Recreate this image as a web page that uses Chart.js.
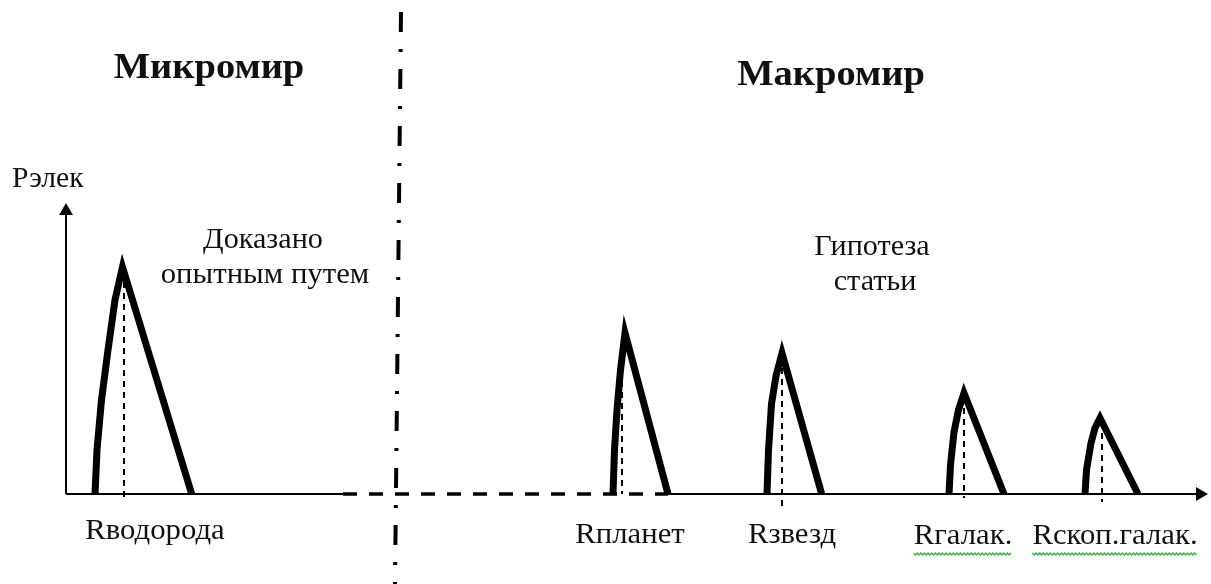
<!DOCTYPE html>
<html>
<head>
<meta charset="utf-8">
<script src="https://cdn.jsdelivr.net/npm/chart.js@4.4.1/dist/chart.umd.min.js"></script>
<style>
  html, body { margin: 0; padding: 0; background: #ffffff; }
  #wrap { width: 1211px; height: 584px; position: relative; }
</style>
</head>
<body>
<div id="wrap"><canvas id="c" width="1211" height="584"></canvas></div>
<script>
// ---------- DATA (diagram units: x along R axis from origin, y = Рэлек above axis) ----------
const peakNames   = ['Rводорода', 'Rпланет', 'Rзвезд', 'Rгалак.', 'Rскоп.галак.'];
const peakCenterX = [58, 556, 716, 898, 1036];        // dashed drop line position
const peakApexX   = [56.5, 559, 716, 898, 1034];
const peakHeight  = [227, 161, 141, 101, 76];
const peakLeftX   = [29, 547, 701, 883, 1019];         // left foot
const peakRightX  = [125.7, 602, 755.7, 938, 1072];    // right foot
// read-off points of the curved left flank (between foot and apex)
const flankX = [[31, 35.5, 42, 49], [548.5, 551, 554.5], [702.5, 705.5, 710], [884.5, 888, 892.5], [1020.5, 1025, 1029]];
const flankY = [[44, 94, 144, 194], [44, 84, 124], [44, 90, 118], [29, 62, 84], [24, 51, 66]];
const dropBottom = [-4, 0, -12, -4, -8];

const yAxisTop   = 291;
const xAxisEnd   = 1142;
const xSolidEnd1 = 277;   // solid part (micro world)
const xDashEnd   = 602;   // dashed part crossing the border
const borderTop  = [335, 482];
const borderBot  = [329, -90];

const headings    = ['Микромир', 'Макромир'];
const yAxisTitle  = 'Рэлек';
const noteMicro   = ['Доказано', 'опытным путем'];
const noteMacro   = ['Гипотеза', 'статьи'];

// ---------- LAYOUT (text placement) ----------
const FONT = '"Liberation Serif", "Times New Roman", serif';
const textLayout = [
  { t: headings[0], x: 143, y: 416, size: 36, bold: true, align: 'center', sx: 1.07 },
  { t: headings[1], x: 765, y: 409, size: 36, bold: true, align: 'center', sx: 1.07 },
  { t: yAxisTitle,  x: -54, y: 307, size: 29, align: 'left', sx: 1.02 },
  { t: noteMicro[0], x: 197, y: 246, size: 29, align: 'center', sx: 1.04 },
  { t: noteMicro[1], x: 199, y: 211, size: 29, align: 'center', sx: 1.06 },
  { t: noteMacro[0], x: 806, y: 239, size: 29, align: 'center', sx: 1.04 },
  { t: noteMacro[1], x: 809, y: 204, size: 29, align: 'center', sx: 1.04 },
];
const peakLabelX = [89, 564, 726, 897, 1049];
const peakLabelY = [-45, -49, -49, -50, -50];
const squiggle   = [false, false, false, true, true];

// ---------- DATASETS ----------
const datasets = [];
const black = '#000000';

for (let i = 0; i < peakNames.length; i++) {
  const pts = [{ x: peakLeftX[i], y: 0 }];
  for (let k = 0; k < flankX[i].length; k++) pts.push({ x: flankX[i][k], y: flankY[i][k] });
  pts.push({ x: peakApexX[i], y: peakHeight[i] });
  pts.push({ x: peakRightX[i], y: 0 });
  datasets.push({
    label: peakNames[i] + ' drop', data: [{ x: peakCenterX[i], y: peakHeight[i] - 4 }, { x: peakCenterX[i], y: dropBottom[i] }],
    showLine: true, borderColor: black, borderWidth: 2, borderDash: [6, 5], pointRadius: 0, order: 3
  });
  datasets.push({
    label: peakNames[i], data: pts, showLine: true, borderColor: black, borderWidth: 7,
    borderJoinStyle: 'miter', borderCapStyle: 'butt', pointRadius: 0, tension: 0, order: 1
  });
}
datasets.push({ label: 'y axis', data: [{ x: 0, y: 0 }, { x: 0, y: yAxisTop - 10 }], showLine: true, borderColor: black, borderWidth: 2, pointRadius: 0, order: 2 });
datasets.push({ label: 'y arrow', data: [{ x: 0, y: yAxisTop - 8 }], pointStyle: 'triangle', pointRadius: 8, pointBackgroundColor: black, pointBorderColor: black, borderWidth: 0, rotation: 0, order: 2 });
datasets.push({ label: 'x axis 1', data: [{ x: 0, y: 0 }, { x: xSolidEnd1, y: 0 }], showLine: true, borderColor: black, borderWidth: 2, pointRadius: 0, order: 2 });
datasets.push({ label: 'x axis dashed', data: [{ x: xSolidEnd1, y: 0 }, { x: xDashEnd, y: 0 }], showLine: true, borderColor: black, borderWidth: 3.5, borderDash: [14, 12], pointRadius: 0, order: 2 });
datasets.push({ label: 'x axis 2', data: [{ x: xDashEnd, y: 0 }, { x: xAxisEnd - 10, y: 0 }], showLine: true, borderColor: black, borderWidth: 2, pointRadius: 0, order: 2 });
datasets.push({ label: 'x arrow', data: [{ x: xAxisEnd - 8, y: 0 }], pointStyle: 'triangle', pointRadius: 8, pointBackgroundColor: black, pointBorderColor: black, borderWidth: 0, rotation: 90, order: 2 });
datasets.push({ label: 'border', data: [{ x: borderTop[0], y: borderTop[1] }, { x: borderBot[0], y: borderBot[1] }], showLine: true, borderColor: black, borderWidth: 4, borderDash: [20, 17, 3, 17], pointRadius: 0, order: 2 });

// ---------- TEXT PLUGIN ----------
const textPlugin = {
  id: 'diagramText',
  afterDatasetsDraw(chart) {
    const { ctx, scales: { x, y } } = chart;
    const items = textLayout.slice();
    for (let i = 0; i < peakNames.length; i++) {
      items.push({ t: peakNames[i], x: peakLabelX[i], y: peakLabelY[i], size: 29, align: 'center', sx: 1.06, sq: squiggle[i] });
    }
    for (const it of items) {
      ctx.save();
      ctx.fillStyle = '#111111';
      ctx.textBaseline = 'alphabetic';
      ctx.font = (it.bold ? 'bold ' : '') + it.size + 'px ' + FONT;
      ctx.textAlign = it.align;
      const px = x.getPixelForValue(it.x), py = y.getPixelForValue(it.y);
      ctx.translate(px, py);
      ctx.scale(it.sx || 1, 1);
      ctx.fillText(it.t, 0, 0);
      if (it.sq) {
        const w = ctx.measureText(it.t).width;
        const x0 = it.align === 'center' ? -w / 2 : 0;
        ctx.beginPath();
        ctx.strokeStyle = '#3cb043';
        ctx.lineWidth = 1.2;
        let up = true;
        for (let sx = x0; sx <= x0 + w; sx += 1.7) {
          const sy = 9 + (up ? 0 : 2);
          if (sx === x0) ctx.moveTo(sx, sy); else ctx.lineTo(sx, sy);
          up = !up;
        }
        ctx.stroke();
      }
      ctx.restore();
    }
  }
};

new Chart(document.getElementById('c'), {
  type: 'scatter',
  data: { datasets },
  options: {
    responsive: false,
    animation: false,
    layout: { padding: 0, autoPadding: false },
    plugins: { legend: { display: false }, tooltip: { enabled: false }, title: { display: false } },
    scales: {
      x: { type: 'linear', min: -66, max: 1145, display: false },
      y: { type: 'linear', min: -90, max: 494, display: false }
    },
    elements: { point: { hoverRadius: 0 } },
    events: []
  },
  plugins: [textPlugin]
});
</script>
</body>
</html>
